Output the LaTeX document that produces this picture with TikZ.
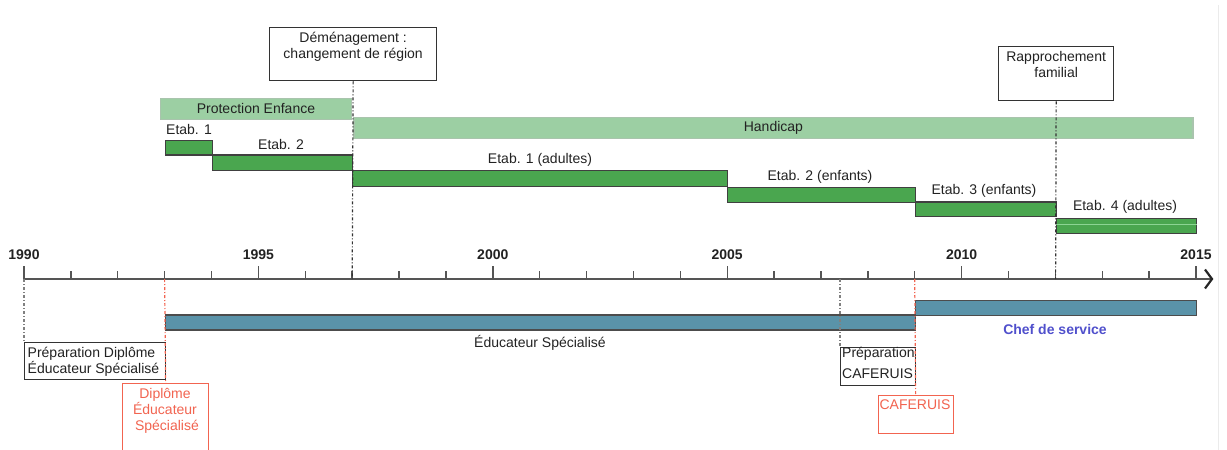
\documentclass[tikz,border=0pt]{standalone}
\usepackage{fontspec}
\setmainfont{Liberation Sans}
\usetikzlibrary{arrows.meta}
\definecolor{lgreen}{HTML}{9CCFA3}
\definecolor{lgreenb}{HTML}{A9C4AD}
\definecolor{dgreen}{HTML}{4AA64F}
\definecolor{bblue}{HTML}{5A93A9}
\definecolor{axisc}{HTML}{555555}
\definecolor{redc}{HTML}{F26450}
\definecolor{chefc}{HTML}{5050CC}
\definecolor{txt}{HTML}{222222}
\tikzset{
  lightbar/.style={draw=lgreenb, fill=lgreen, line width=1.2pt},
  greenbar/.style={draw=black!75, fill=dgreen, line width=1.3pt},
  bluebar/.style={draw=black!70, fill=bblue, line width=1.3pt},
  lbl/.style={text=txt, inner sep=0pt},
  yearlbl/.style={font=\fontsize{14}{16}\selectfont\bfseries, text=txt, inner sep=0pt},
  evbox/.style={draw=black!80, fill=white, line width=1.3pt},
  redbox/.style={draw=redc, fill=white, line width=1.3pt},
  evline/.style={draw=black!80, line width=1.2pt, dash pattern=on 3pt off 2pt on 1pt off 2pt},
  grayline/.style={draw=black!50, line width=1.2pt, dash pattern=on 3pt off 2pt on 1pt off 2pt},
  redline/.style={draw=redc, line width=1.2pt, dash pattern=on 3pt off 2pt on 1pt off 2pt},
}
\begin{document}
\begin{tikzpicture}[x=1pt, y=-1pt, font=\fontsize{14}{16}\selectfont]
\useasboundingbox (0,0) rectangle (1227,450);
% faint right border
\draw[black!8, line width=1pt] (1218,5) -- (1218,450);

% light bars
\node[lightbar, anchor=north west, minimum width=190.7, minimum height=21.3, inner sep=0pt] (prot) at (160,97.7) {};
\node[lbl] at (prot.center) {Protection Enfance};
\node[lightbar, anchor=north west, minimum width=839, minimum height=20.7, inner sep=0pt] (hand) at (353.3,117) {};
\node[lbl] at (hand.center) {Handicap};

% dark green bars
\node[greenbar, anchor=north west, minimum width=46.7, minimum height=14.3, inner sep=0pt] (e1) at (165,140) {};
\node[greenbar, anchor=north west, minimum width=140.3, minimum height=15.7, inner sep=0pt] (e2) at (211.7,154.3) {};
\node[greenbar, anchor=north west, minimum width=375, minimum height=15.7, inner sep=0pt] (e3) at (352,170) {};
\node[greenbar, anchor=north west, minimum width=188, minimum height=15, inner sep=0pt] (e4) at (727,186.7) {};
\node[greenbar, anchor=north west, minimum width=140.5, minimum height=14.5, inner sep=0pt] (e5) at (915,201.2) {};
\node[greenbar, anchor=north west, minimum width=140.5, minimum height=15, inner sep=0pt] (e6) at (1055.5,217.7) {};
\draw[draw=green!10!lgreen, line width=1pt] (e6.west |- 0,224.6) -- (e6.east |- 0,224.6);

\node[lbl] at (189,129) {Etab. 1};
\node[lbl] at (281,144) {Etab. 2};
\node[lbl] at (540,160) {Etab. 1 (adultes)};
\node[lbl] at (820,176.7) {Etab. 2 (enfants)};
\node[lbl] at (984,190.7) {Etab. 3 (enfants)};
\node[lbl] at (1125,207) {Etab. 4 (adultes)};

% blue bars
\node[bluebar, anchor=north west, minimum width=750, minimum height=15, inner sep=0pt] (edu) at (165,314.3) {};
\node[bluebar, anchor=north west, minimum width=281, minimum height=15, inner sep=0pt] (chef) at (915,300) {};
\node[lbl] at (540,343) {Éducateur Spécialisé};
\node[lbl, text=chefc, font=\fontsize{14}{16}\selectfont\bfseries] at (1055,329) {Chef de service};

% axis
\foreach \i in {0,...,24} {
  \draw[axisc, line width=1.4pt] ({24+46.88*\i},271) -- ({24+46.88*\i},279);
}
\foreach \i/\y in {0/1990,5/1995,10/2000,15/2005,20/2010,25/2015} {
  \draw[axisc, line width=1.4pt] ({24+46.88*\i},266) -- ({24+46.88*\i},279);
  \node[yearlbl] at ({24+46.88*\i},255) {\y};
}
\coordinate (ax0) at (24,279);
\coordinate (axend) at (1212,279);
\draw[axisc, line width=1.5pt] (ax0) -- (axend);
\draw[black!85, line width=2.2pt, line join=miter] (1205,269.5) -- (axend) -- (1205,288.5);

% event boxes above
\node[evbox, anchor=north west, minimum width=167, minimum height=53, inner sep=0pt] (dem) at (269,27) {};
\node[lbl, align=center, anchor=north, font=\fontsize{14}{16}\selectfont, yshift=-5] at (dem.north) {Déménagement :\\changement de région};
\node[evbox, anchor=north west, minimum width=115, minimum height=54, inner sep=0pt] (rap) at (998,46) {};
\node[lbl, align=center, anchor=north, font=\fontsize{14}{16}\selectfont, yshift=-5] at (rap.north) {Rapprochement\\familial};
\coordinate (demax) at (352.2,279);
\coordinate (rapax) at (1055.6,279);
\draw[evline] (dem.south) -- (demax);
\draw[evline] (rap.south) -- (rapax);

% boxes below
\node[evbox, anchor=north west, minimum width=141, minimum height=37, inner sep=0pt] (prep) at (24,342) {};
\node[lbl, align=left, anchor=north west, font=\fontsize{14}{15.5}\selectfont] at (27.5,347) {Préparation Diplôme\\Éducateur Spécialisé};
\draw[grayline] (ax0) -- (prep.north west);

\node[redbox, anchor=north west, minimum width=86, minimum height=70, inner sep=0pt] (dip) at (122,383) {};
\node[lbl, align=center, anchor=north, text=redc, font=\fontsize{14}{16}\selectfont] at (165,388) {Diplôme\\Éducateur\\\ Spécialisé};
\coordinate (dipax) at (164.6,279);
\draw[redline] (dipax) -- (dip.north);

\node[evbox, anchor=north west, minimum width=75, minimum height=38, inner sep=0pt] (pcaf) at (840,347) {};
\node[lbl, align=left, anchor=north west, font=\fontsize{14}{21}\selectfont] at (842,346.5) {Préparation\\CAFERUIS};
\coordinate (pcafax) at (840,279);
\draw[grayline] (pcafax) -- (pcaf.north west);

\node[redbox, anchor=north west, minimum width=75, minimum height=38, inner sep=0pt] (caf) at (877.5,395) {};
\node[lbl, text=redc, anchor=north] at (915,400) {CAFERUIS};
\coordinate (cafax) at (914.7,279);
\draw[redline] (cafax) -- (caf.north);
\end{tikzpicture}
\end{document}
